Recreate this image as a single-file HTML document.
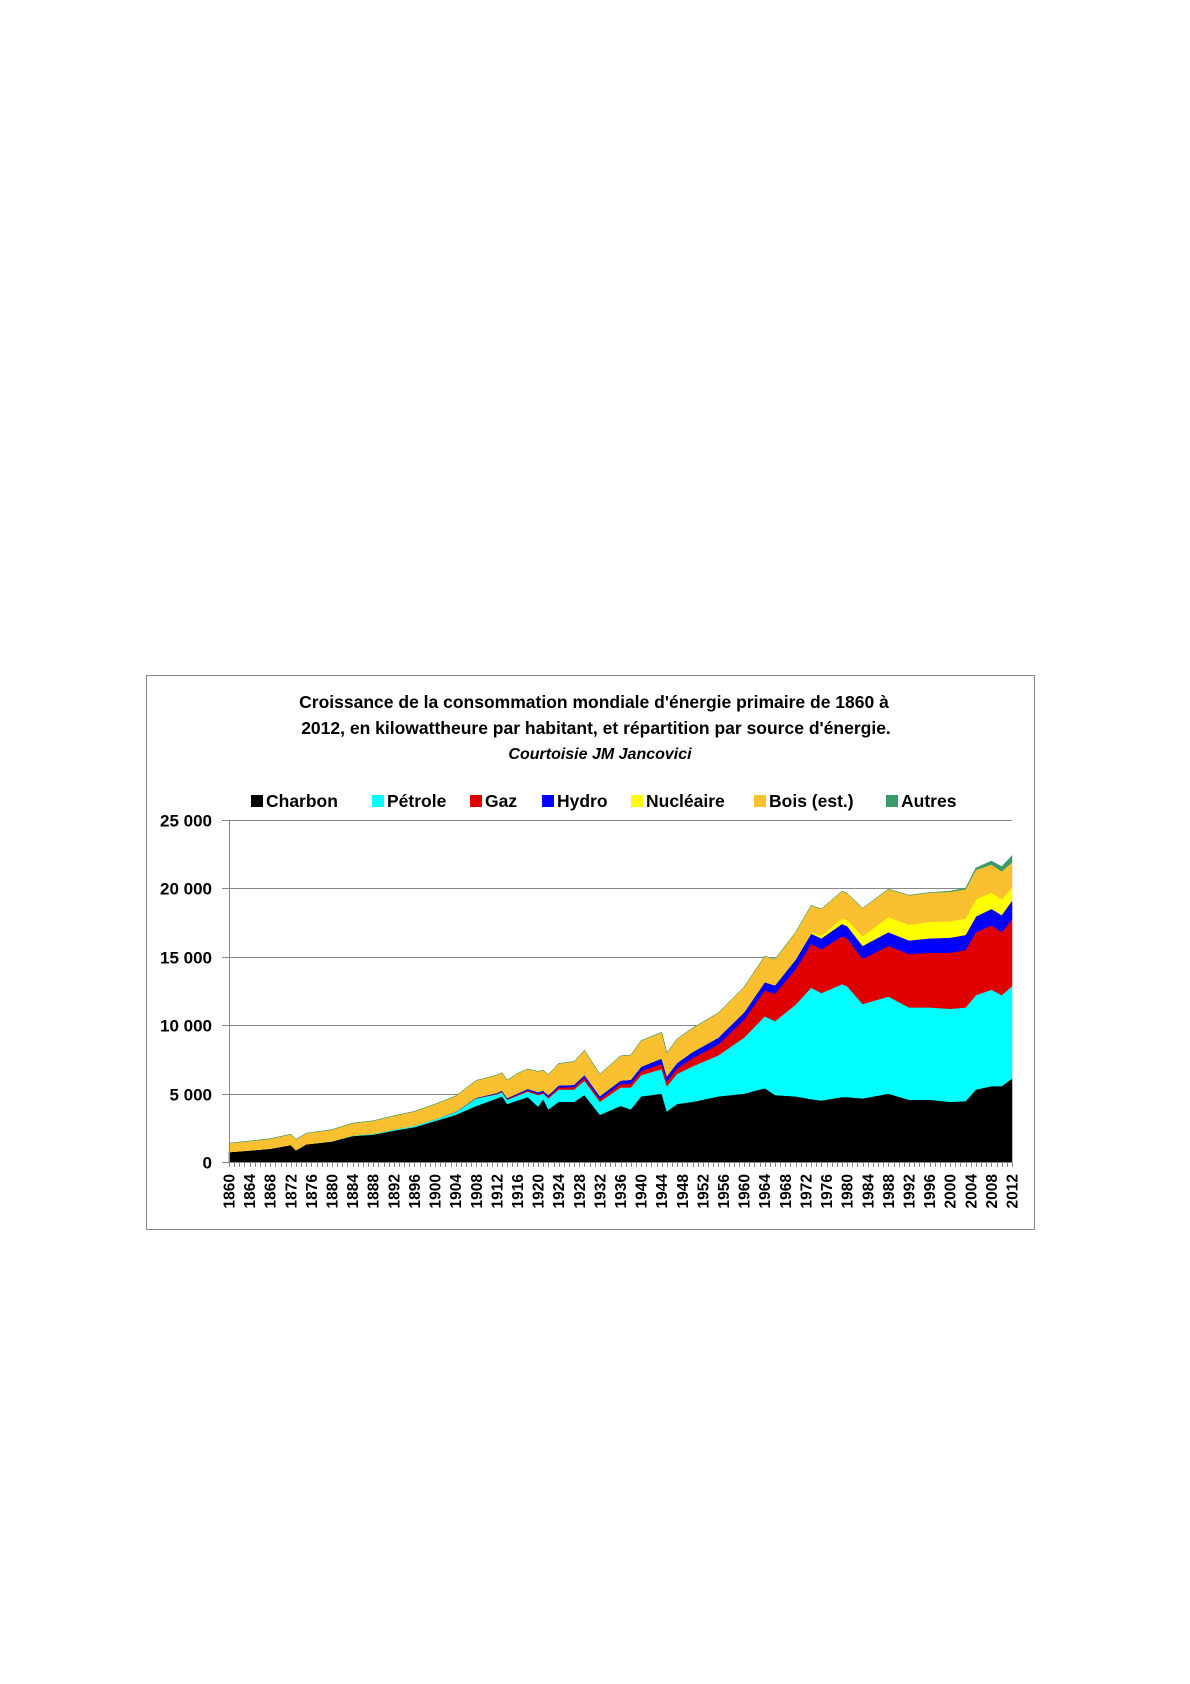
<!DOCTYPE html>
<html><head><meta charset="utf-8"><style>
html,body{margin:0;padding:0;background:#fff;}
svg{display:block;font-family:"Liberation Sans",Arial,sans-serif;}
</style></head><body>
<svg id="chart" width="1190" height="1684" viewBox="0 0 1190 1684" xmlns="http://www.w3.org/2000/svg">
<rect x="0" y="0" width="1190" height="1684" fill="#fff"/>
<rect x="146.5" y="675.5" width="888" height="554" fill="#fff" stroke="#888" stroke-width="1"/>
<g font-weight="bold" text-anchor="middle" fill="#000">
<text x="594" y="708" font-size="17.5">Croissance de la consommation mondiale d'énergie primaire de 1860 à</text>
<text x="596" y="734" font-size="17.5">2012, en kilowattheure par habitant, et répartition par source d'énergie.</text>
<text x="600" y="759" font-size="16" font-style="italic">Courtoisie JM Jancovici</text>
</g>
<g id="legend"></g>
<g id="grid"></g>
<g id="areas"></g>
<g id="axes"></g>
</svg>
<script>
const years = [1860,1864,1868,1872,1873,1875,1880,1884,1888,1892,1896,1900,1904,1908,1912,1913,1914,1916,1918,1920,1921,1922,1924,1927,1929,1932,1936,1938,1940,1944,1945,1947,1950,1955,1960,1964,1966,1970,1973,1975,1979,1980,1983,1988,1992,1996,2000,2003,2005,2008,2010,2012];
const charbon = [730,850,980,1250,860,1300,1500,1900,2000,2300,2550,3000,3450,4100,4650,4800,4250,4500,4750,4050,4600,3850,4400,4400,4900,3450,4100,3850,4800,5000,3700,4250,4400,4800,5000,5400,4900,4800,4600,4500,4750,4750,4650,5000,4550,4550,4400,4450,5300,5550,5550,6100];
const petrole = [0,0,0,0,0,0,20,40,60,80,100,120,200,550,300,300,300,350,400,850,400,800,900,900,1050,950,1350,1600,1550,1800,1850,2200,2600,3000,4100,5250,5400,6700,8150,7850,8250,8100,6900,7100,6750,6750,6800,6850,6900,7050,6650,6750];
const gaz = [0,0,0,0,0,0,0,0,0,0,0,0,10,20,50,60,60,80,90,100,100,110,150,180,220,200,250,270,300,380,350,400,600,800,1300,1900,2000,2600,3200,3200,3500,3500,3300,3700,3900,4000,4100,4200,4600,4700,4600,4900];
const hydro = [0,0,0,0,0,0,0,0,0,0,0,10,20,40,60,70,70,90,110,120,120,130,150,170,200,220,260,300,320,400,380,400,450,500,550,600,620,700,750,800,900,900,950,1000,1000,1050,1100,1100,1150,1200,1250,1350];
const nucleaire = [0,0,0,0,0,0,0,0,0,0,0,0,0,0,0,0,0,0,0,0,0,0,0,0,0,0,0,0,0,0,0,0,0,0,0,0,0,50,100,200,400,450,700,1100,1150,1200,1200,1200,1250,1200,1150,950];
const bois = [650,680,720,780,800,800,850,900,950,1000,1050,1100,1150,1250,1300,1300,1300,1450,1450,1500,1500,1500,1600,1700,1800,1600,1800,1800,1900,1900,1700,1750,1750,1800,1850,1900,1900,1950,1950,1950,2000,1950,2050,2050,2150,2150,2150,2150,2150,2050,2050,1850];
const autres = [0,0,0,0,0,0,0,0,0,0,0,0,0,0,0,0,0,0,0,0,0,0,0,0,0,0,0,0,0,0,0,0,0,0,0,0,0,0,0,0,0,0,0,0,0,0,50,80,150,250,350,500];
const seriesNames = ["Charbon","Pétrole","Gaz","Hydro","Nucléaire","Bois (est.)","Autres"];
const seriesColors = ["#000000","#00FFFF","#E00000","#0000FF","#FFFF00","#FBC02F","#3A9A6A"];
const yTicks = [0,5000,10000,15000,20000,25000];
const yTickLabels = ["0","5 000","10 000","15 000","20 000","25 000"];

const NS="http://www.w3.org/2000/svg";
const X0=229,X1=1012,Y0=1162,Y1=820,YMAX=25000,YR0=1860,YR1=2012;
const xs=y=>X0+(y-YR0)*(X1-X0)/(YR1-YR0);
const ys=v=>Y0-v*(Y0-Y1)/YMAX;
function mk(tag,attrs,parent){const e=document.createElementNS(NS,tag);for(const k in attrs)e.setAttribute(k,attrs[k]);parent.appendChild(e);return e;}

const grid=document.getElementById('grid');
const axes=document.getElementById('axes');
yTicks.forEach((t,i)=>{
  const y=Math.round(ys(t))+0.5;
  if(t>0){const l=mk('line',{x1:X0,x2:X1,y1:y,y2:y,stroke:'#888','stroke-width':1},grid);
  
  }
  const tk=mk('line',{x1:X0-7,x2:X0,y1:y,y2:y,stroke:'#888'},axes);
  
  
  const tx=mk('text',{x:212,y:y+6,'text-anchor':'end','font-size':17,'font-weight':'bold',fill:'#000'},axes);
  
  
  tx.textContent=yTickLabels[i];
});

const areas=document.getElementById('areas');
const all=[charbon,petrole,gaz,hydro,nucleaire,bois,autres];
let base=years.map(()=>0);
all.forEach((s,si)=>{
  const top=base.map((b,i)=>b+s[i]);
  let d='M'+years.map((yr,i)=>xs(yr).toFixed(2)+','+ys(top[i]).toFixed(2)).join('L');
  for(let i=years.length-1;i>=0;i--) d+='L'+xs(years[i]).toFixed(2)+','+ys(base[i]).toFixed(2);
  d+='Z';
  const p=mk('path',{d:d,fill:seriesColors[si],stroke:seriesColors[si],'stroke-width':0.5},areas);
  
  
  base=top;
});

const ax=mk('line',{x1:X0+0.5,x2:X0+0.5,y1:Y1,y2:Y0,stroke:'#888'},axes);


const bx=mk('line',{x1:X0,x2:X1,y1:Y0+0.5,y2:Y0+0.5,stroke:'#888'},axes);


for(let yr=YR0;yr<=YR1;yr++){
  const x=Math.round(xs(yr))+0.5;
  const t=mk('line',{x1:x,x2:x,y1:Y0,y2:Y0+5,stroke:'#888'},axes);
  
  
  if((yr-YR0)%4===0){
    const tx=mk('text',{x:0,y:0,'text-anchor':'end','font-size':15.5,'font-weight':'bold',fill:'#000',transform:'translate('+(xs(yr)+5.5)+','+(Y0+12)+') rotate(-90)'},axes);
    
    
    tx.textContent=yr;
  }
}

const legend=document.getElementById('legend');
const legX=[251,372,470,542,631,754,886];
seriesNames.forEach((n,i)=>{
  const g=mk('g',{},legend);
  
  
  mk('rect',{x:legX[i],y:795,width:12,height:12,fill:seriesColors[i]},g);
  const t=mk('text',{x:legX[i]+15,y:807,'font-size':17.5,'font-weight':'bold',fill:'#000'},g);
  t.textContent=n;
});
</script>
</body></html>
